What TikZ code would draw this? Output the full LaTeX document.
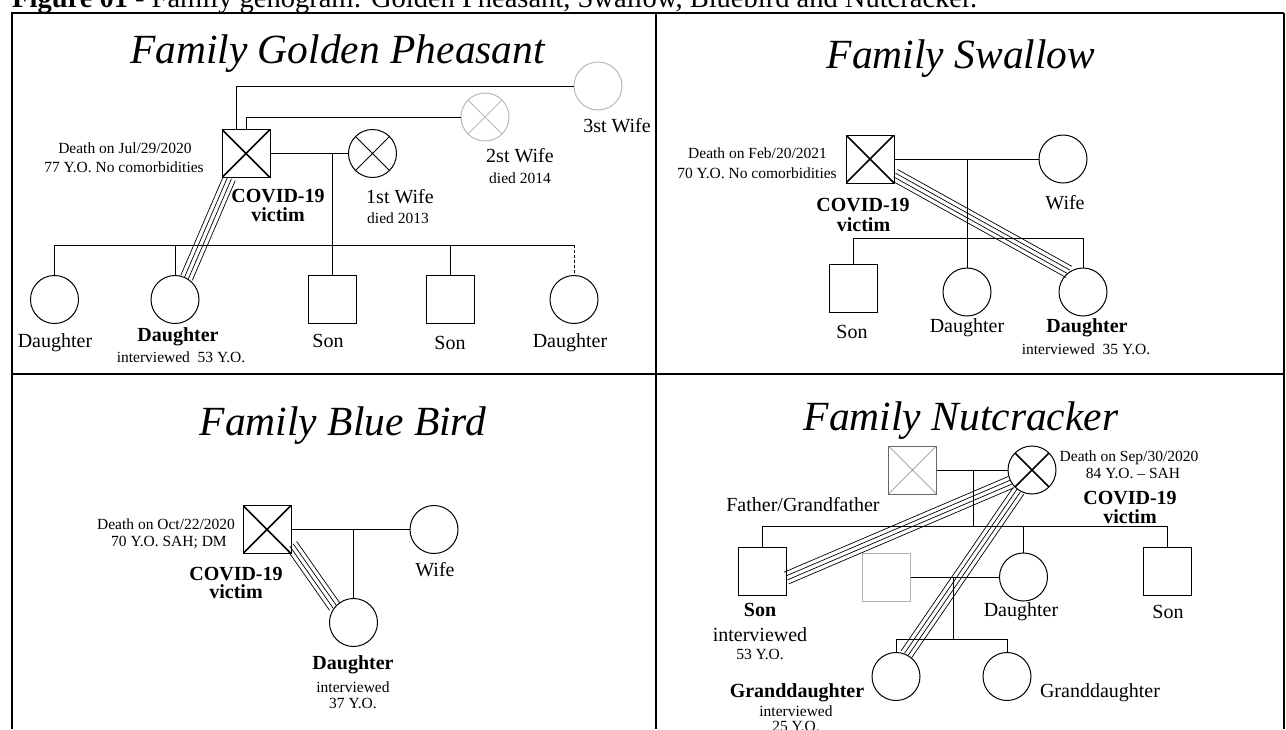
\documentclass[tikz,border=0pt]{standalone}
\usepackage{fontspec}
\setmainfont{Liberation Serif}
\usetikzlibrary{calc}
\newcommand\quadlink[2]{%
  \foreach \o in {-6.3pt,-2.1pt,2.1pt,6.3pt}{%
    \draw[rel] ($(#1)!\o!90:(#2)$) -- ($(#2)!\o!-90:(#1)$);}}
\begin{document}
\begin{tikzpicture}[x=1pt,y=-1pt,
  lbl/.style={font=\fontsize{20}{22}\selectfont, inner sep=0},
  sml/.style={font=\fontsize{15.5}{17}\selectfont, inner sep=0},
  bld/.style={font=\fontsize{20}{22}\selectfont\bfseries, inner sep=0},
  ttl/.style={font=\fontsize{41.5}{45}\selectfont\itshape, inner sep=0, anchor=base},
  male/.style={draw, rectangle, minimum size=48pt, inner sep=0, line width=1pt},
  female/.style={draw, circle, minimum size=48pt, inner sep=0, line width=1pt},
  xmark/.style={path picture={\draw[#1] (path picture bounding box.south west) -- (path picture bounding box.north east) (path picture bounding box.north west) -- (path picture bounding box.south east);}},
  xmark/.default={line width=0.8pt},
  link/.style={line width=0.9pt},
  rel/.style={line width=0.7pt},
  frame/.style={line width=1.5pt}]
\useasboundingbox (0,0) rectangle (1286,729);
% caption
\node[anchor=base west, inner sep=0, font=\fontsize{28.5}{30}\selectfont] (cap) at (12,7)
  {\textbf{Figure 01} - Family genogram: Golden Pheasant, Swallow, Bluebird and Nutcracker.};
% frame
\draw[line width=2pt] (12,729) -- (12,13) -- (1284,13);
\draw[frame] (1284,13) -- (1284,729);
\draw[frame] (656,13) -- (656,729);
\draw[frame] (12,374) -- (1284,374);

% ===== Q1 Golden Pheasant
\node[ttl] (gpt) at (337.5,63) {Family Golden Pheasant};
\node[male, xmark={line width=1.6pt}] (gpv) at (246,153.5) {};
\node[female, draw=black!28] (gpw3) at (598,86) {};
\node[female, draw=black!28, xmark={line width=0.8pt, black!28}] (gpw2) at (485,117) {};
\node[female, xmark] (gpw1) at (372.5,153.5) {};
\node[female] (gpd1) at (54.5,299.5) {};
\node[female] (gpd2) at (175,299.5) {};
\node[male] (gpson1) at (332,299.5) {};
\node[male] (gpson2) at (450.5,299.5) {};
\node[female] (gpd3) at (574,299.5) {};
\draw[link] ([xshift=-10pt]gpv.north) |- (gpw3.west);
\draw[link] (gpv.north) |- (gpw2.west);
\draw[link] (gpv.east) -- (gpw1.west);
\coordinate (gpm) at (332,153.5);
\draw[link] (gpm) -- (gpson1.north);
\coordinate (gpsL) at (54.5,245);
\coordinate (gpsR) at (574,245);
\draw[link] (gpd1.north) -- (gpsL) -- (gpsR);
\draw[link, dash pattern=on 3pt off 2pt] (gpsR) -- (gpd3.north);
\draw[link] (gpd2.north) -- (gpd2.north |- gpsL);
\draw[link] (gpson2.north) -- (gpson2.north |- gpsL);
\coordinate (gpA) at ([xshift=-16.5pt]gpv.south);
\quadlink{gpA}{gpd2.62}
\node[sml] (gpx1) at (125,148) {Death on Jul/29/2020};
\node[sml] (gpx2) at (124,167) {77 Y.O. No comorbidities};
\node[bld] (gpcov) at (278,196) {COVID-19};
\node[bld] (gpvic) at (278,215) {victim};
\node[lbl] (gpw1l) at (400,197) {1st Wife};
\node[sml] (gpw1d) at (398,218) {died 2013};
\node[lbl] (gpw2l) at (520,156) {2st Wife};
\node[sml] (gpw2d) at (520,178) {died 2014};
\node[lbl] (gpw3l) at (617,126) {3st Wife};
\node[lbl] (gpd1l) at (55,343) {Daughter};
\node[bld] (gpd2l) at (178,337) {Daughter};
\node[sml] (gpd2i) at (181,357) {interviewed~~53 Y.O.};
\node[lbl] (gps1l) at (328,341) {Son};
\node[lbl] (gps2l) at (450,343) {Son};
\node[lbl] (gpd3l) at (570,343) {Daughter};

% ===== Q2 Swallow
\node[ttl] (swt) at (961,68) {Family Swallow};
\node[male, xmark={line width=1.6pt}] (swv) at (870,159) {};
\node[female] (sww) at (1063,159) {};
\node[male] (swson) at (853,288.5) {};
\node[female] (swd1) at (967,292) {};
\node[female] (swd2) at (1083,292) {};
\draw[link] (swv.east) -- (sww.west);
\coordinate (swm) at (967,159);
\draw[link] (swm) -- (swd1.north);
\coordinate (swsL) at (853,238);
\coordinate (swsR) at (1083,238);
\draw[link] (swson.north) -- (swsL) -- (swsR) -- (swd2.north);
\coordinate (swA) at ([yshift=-16pt]swv.east);
\quadlink{swA}{swd2.125}
\node[sml] (swx1) at (757.5,153) {Death on Feb/20/2021};
\node[sml] (swx2) at (757,173) {70 Y.O. No comorbidities};
\node[bld] (swcov) at (863,205) {COVID-19};
\node[bld] (swvic) at (863.5,225) {victim};
\node[lbl] (swwl) at (1065,203) {Wife};
\node[lbl] (swsl) at (852,332) {Son};
\node[lbl] (swd1l) at (967,328) {Daughter};
\node[bld] (swd2l) at (1087,328) {Daughter};
\node[sml] (swd2i) at (1086,349) {interviewed~~35 Y.O.};

% ===== Q3 Blue Bird
\node[ttl] (bbt) at (343,435) {Family Blue Bird};
\node[male, xmark={line width=1.6pt}] (bbv) at (267,529.5) {};
\node[female] (bbw) at (434,529.5) {};
\node[female] (bbd) at (353.5,622.5) {};
\draw[link] (bbv.east) -- (bbw.west);
\coordinate (bbm) at (353.5,529.5);
\draw[link] (bbm) -- (bbd.north);
\coordinate (bbA) at ([yshift=-15.5pt]bbv.east);
\quadlink{bbA}{bbd.140}
\node[sml] (bbx1) at (166,524) {Death on Oct/22/2020};
\node[sml] (bbx2) at (169,543) {70 Y.O. SAH; DM};
\node[bld] (bbcov) at (236,574) {COVID-19};
\node[bld] (bbvic) at (236,592) {victim};
\node[lbl] (bbwl) at (435,570) {Wife};
\node[bld] (bbdl) at (353,665) {Daughter};
\node[sml] (bbdi) at (353,687) {interviewed};
\node[sml] (bbda) at (353,703) {37 Y.O.};

% ===== Q4 Nutcracker
\node[ttl] (nut) at (961,430) {Family Nutcracker};
\node[male, draw=black!60, line width=0.8pt, xmark={line width=0.6pt, black!50}] (nugf) at (912.5,470) {};
\node[female, xmark={line width=1.6pt}] (nugm) at (1032,470) {};
\node[male] (nus1) at (762,571) {};
\node[male] (nus2) at (1167,571) {};
\node[female] (nud) at (1023.5,577) {};
\node[male, draw=black!30] (nuh) at (886,577) {};
\node[female] (nugd1) at (896,676.5) {};
\node[female] (nugd2) at (1007,676.5) {};
\draw[link] (nugf.east) -- (nugm.west);
\coordinate (num) at (973,470);
\coordinate (nusM) at (973,526);
\draw[link] (num) -- (nusM);
\coordinate (nusL) at (762,526);
\coordinate (nusR) at (1167,526);
\draw[link] (nus1.north) -- (nusL) -- (nusR) -- (nus2.north);
\draw[link] (nud.north) -- (nud.north |- nusL);
\draw[link] (nuh.east) -- (nud.west);
\coordinate (num2) at (953,577);
\coordinate (nugM) at (953,639);
\draw[link] (num2) -- (nugM);
\coordinate (nugL) at (896,639);
\coordinate (nugR) at (1007,639);
\draw[link] (nugd1.north) -- (nugL) -- (nugR) -- (nugd2.north);
\coordinate (nuA) at ([yshift=-7pt]nus1.east);
\quadlink{nugm.210}{nuA}
\quadlink{nugm.237}{nugd1.65}
\node[sml] (nux1) at (1129,458) {Death on Sep/30/2020};
\node[sml] (nux2) at (1133,473) {84 Y.O. – SAH};
\node[bld] (nucov) at (1130,498) {COVID-19};
\node[bld] (nuvic) at (1130,517) {victim};
\node[lbl] (nugfl) at (803,505) {Father/Grandfather};
\node[bld] (nus1l) at (760,610) {Son};
\node[lbl] (nus1i) at (760,635) {interviewed};
\node[sml] (nus1a) at (760,654) {53 Y.O.};
\node[lbl] (nudl) at (1021,612) {Daughter};
\node[lbl] (nus2l) at (1168,612) {Son};
\node[bld] (nugd1l) at (797,693) {Granddaughter};
\node[sml] (nugd1i) at (796,711) {interviewed};
\node[sml] (nugd1a) at (796,726) {25 Y.O.};
\node[lbl] (nugd2l) at (1100,693) {Granddaughter};
\end{tikzpicture}
\end{document}
